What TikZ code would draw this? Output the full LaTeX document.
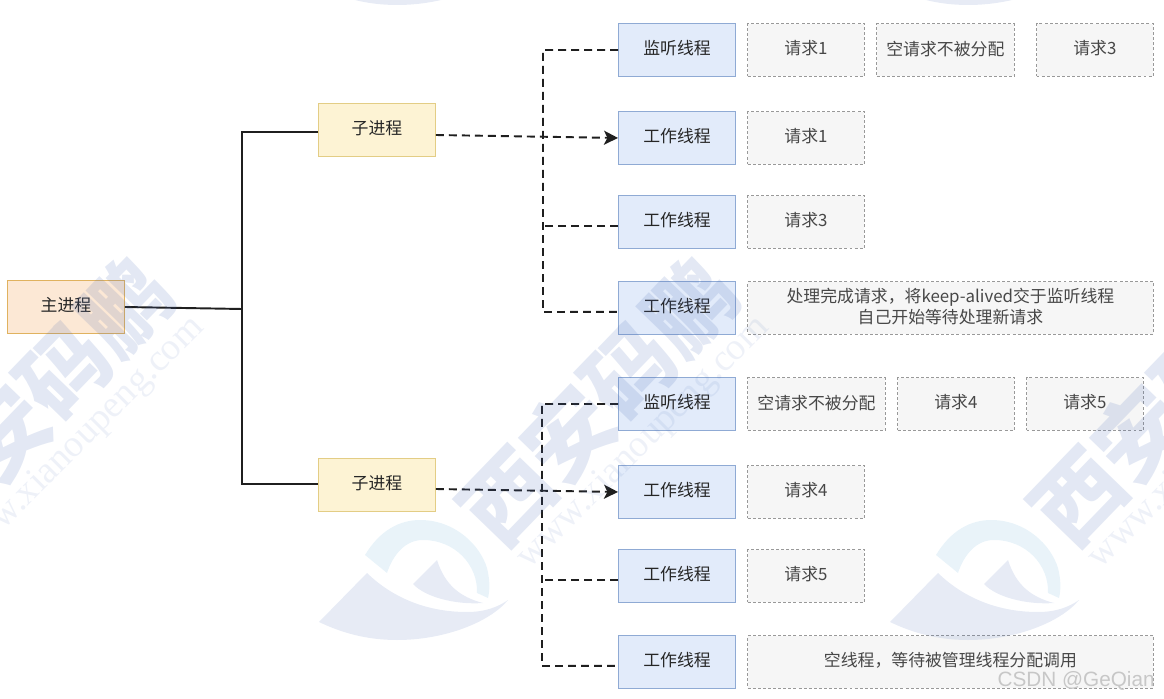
\documentclass[tikz,border=0pt]{standalone}
\usepackage{fontspec}
\setmainfont{Noto Sans CJK SC}
\newfontfamily\wmurlfont{Liberation Serif}
\newfontfamily\csdnfont{Liberation Sans}
\usetikzlibrary{arrows.meta, positioning}
\definecolor{main_fill}{HTML}{FCE8D5}
\definecolor{main_line}{HTML}{E0B25F}
\definecolor{sub_fill}{HTML}{FDF3D4}
\definecolor{sub_line}{HTML}{E3CD85}
\definecolor{thr_fill}{HTML}{E2EBFA}
\definecolor{thr_line}{HTML}{8FAAD4}
\definecolor{req_fill}{HTML}{F6F6F6}
\definecolor{req_line}{HTML}{999999}
\definecolor{wm_blue}{HTML}{4366B3}
\definecolor{wm_cyan}{HTML}{60ADD6}

\begin{document}
\begin{tikzpicture}[
                x=.02cm, y=-.02cm,
                font=\fontsize{9.6pt}{12pt}\selectfont,
                box/.style={rectangle, line width=.7pt, minimum width=2.335cm, minimum height=1.055cm, align=center, inner sep=1pt, text depth=2.4pt},
                mainbox/.style={box, draw=main_line, fill=main_fill, text=black!85},
                subbox/.style={box, draw=sub_line, fill=sub_fill, text=black!85},
                thrbox/.style={box, draw=thr_line, fill=thr_fill, text=black!85},
                reqbox/.style={box, draw=req_line, fill=req_fill, text=black!72, dash pattern=on 1.7pt off 1.2pt},
                reqwide/.style={reqbox, minimum width=2.755cm},
                reqlong/.style={reqbox, minimum width=8.115cm},
                solidline/.style={line width=1.1pt, draw=black!88},
                dashline/.style={line width=1.1pt, draw=black!88, dash pattern=on 4.5pt off 2.9pt},
                arrow/.style={dashline, -{Stealth[length=8pt, width=8pt, inset=2pt]}},
                wmlogo/.pic={
                    \fill [wm_cyan, opacity=.14] (365,555) .. controls (380,530) and (400,520) .. (420,520) .. controls (455,520) and (480,545) .. (487,568) .. controls (490,580) and (490,590) .. (488,598) -- (477,593) .. controls (478,565) and (455,540) .. (423,540) .. controls (405,540) and (393,555) .. (387,573) -- cycle;
                    \fill [wm_blue, opacity=.13] (319,622) -- (367,573) .. controls (395,600) and (430,612) .. (467,612) .. controls (485,612) and (498,607) .. (508,600) .. controls (490,622) and (445,640) .. (397,640) .. controls (365,640) and (340,632) .. (319,622) -- cycle;
                    \fill [wm_blue, opacity=.13] (437,560) -- (413,584) .. controls (425,597) and (455,605) .. (483,603) .. controls (460,597) and (445,585) .. (437,560) -- cycle;
                },
                wmmark/.pic={
                    \node (title) [rotate=46, text=wm_blue, text opacity=.15, font=\fontsize{50pt}{50pt}\selectfont\bfseries, inner sep=0pt] at (599,402) {西安码鹏};
                    \node (url) [rotate=45, text=wm_blue, text opacity=.09, font=\fontsize{21.5pt}{22pt}\selectfont\wmurlfont, inner sep=0pt] at (644,443) {www.xianoupeng.com};
                }
            ]
                \useasboundingbox (0,0) rectangle (1164,699);

                % Process nodes
                \node (main) [mainbox] at (66,307) {主进程};
                \node (sub1) [subbox] at (377,130) {子进程};
                \node (sub2) [subbox] at (377,485) {子进程};

                % Upper threads
                \node (lis1) [thrbox] at (677,50) {监听线程};
                \node (wrk1a) [thrbox, below=.68cm of lis1] {工作线程};
                \node (wrk1b) [thrbox, below=.6cm of wrk1a] {工作线程};
                \node (wrk1c) [thrbox, below=.64cm of wrk1b] {工作线程};

                % Lower threads
                \node (lis2) [thrbox] at (677,404) {监听线程};
                \node (wrk2a) [thrbox, below=.68cm of lis2] {工作线程};
                \node (wrk2b) [thrbox, below=.6cm of wrk2a] {工作线程};
                \node (wrk2c) [thrbox, below=.64cm of wrk2b] {工作线程};

                % Upper requests
                \node (req1a) [reqbox, right=.22cm of lis1] {请求1};
                \node (req1b) [reqwide, right=.22cm of req1a] {空请求不被分配};
                \node (req1c) [reqbox, right=.42cm of req1b] {请求3};
                \node (req1d) [reqbox, right=.22cm of wrk1a] {请求1};
                \node (req1e) [reqbox, right=.22cm of wrk1b] {请求3};
                \node (req1f) [reqlong, right=.22cm of wrk1c] {处理完成请求，将keep-alived交于监听线程\\自己开始等待处理新请求};

                % Lower requests
                \node (req2a) [reqwide, right=.22cm of lis2] {空请求不被分配};
                \node (req2b) [reqbox, right=.22cm of req2a] {请求4};
                \node (req2c) [reqbox, right=.22cm of req2b] {请求5};
                \node (req2d) [reqbox, right=.22cm of wrk2a] {请求4};
                \node (req2e) [reqbox, right=.22cm of wrk2b] {请求5};
                \node (req2f) [reqlong, right=.22cm of wrk2c] {空线程，等待被管理线程分配调用};

                % Junctions
                \coordinate (trunk) at (242,309);
                \coordinate (busa) at (543,312);
                \coordinate (busb) at (542,666);

                % Arrows
                \draw [solidline] (main.east) -- (trunk);
                \draw [solidline] ([yshift=-.04cm]sub1.west) -| (trunk);
                \draw [solidline] ([yshift=.02cm]sub2.west) -| (trunk);
                \draw [arrow] ([yshift=-.1cm]sub1.east) -- (wrk1a.west);
                \draw [arrow] ([yshift=-.08cm]sub2.east) -- (wrk2a.west);
                \draw [dashline] (lis1.west) -| (busa) -- ([yshift=-.08cm]wrk1c.west);
                \draw [dashline] ([yshift=-.08cm]wrk1b.west) -- ([yshift=-.08cm]busa |- wrk1b.west);
                \draw [dashline] (lis2.west) -| (busb) -- ([yshift=-.08cm]wrk2c.west);
                \draw [dashline] ([yshift=-.08cm]wrk2b.west) -- ([yshift=-.08cm]busb |- wrk2b.west);

                % Watermark
                \pic (wma) at (-565,0) {wmmark};
                \pic (wmb) at (0,0) {wmmark};
                \pic (wmc) at (571,0) {wmmark};
                \pic (wld) at (0,0) {wmlogo};
                \pic (wle) at (571,0) {wmlogo};
                \pic (wlf) at (0,-635) {wmlogo};
                \pic (wlg) at (571,-635) {wmlogo};
                \node (csdn) [anchor=east, text=black!22, font=\fontsize{11.8pt}{12pt}\selectfont\csdnfont, inner sep=0pt] at (1155,681) {CSDN @GeQian};
            \end{tikzpicture}
\end{document}
